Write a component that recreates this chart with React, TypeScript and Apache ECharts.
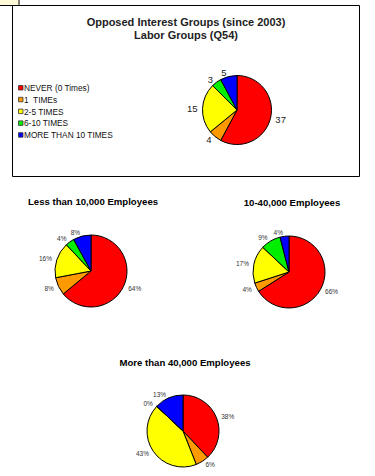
import React, { useEffect, useRef } from "react";
import * as echarts from "echarts";

const categories = ["NEVER (0 Times)", "1  TIMEs", "2-5 TIMES", "6-10 TIMES", "MORE THAN 10 TIMES"];
const colors = ["#ff0000", "#ff9900", "#ffff00", "#00ee00", "#0000ff"];
const overallCounts = [37, 4, 15, 3, 5];
const lessThan10k = [64, 8, 16, 4, 8];
const from10to40k = [66, 4, 17, 9, 4];
const moreThan40k = [38, 6, 43, 0, 13];

const mainTitle = ["Opposed Interest Groups (since 2003)", "Labor Groups (Q54)"];
const subTitles = ["Less than 10,000 Employees", "10-40,000 Employees", "More than 40,000 Employees"];

const FONT = "Liberation Sans, Arial, sans-serif";

function pieSeries(values: number[], center: [number, number], radius: number, fmt: string, fontSize: number, color: string, len: number) {
  return {
    type: "pie",
    center,
    radius,
    startAngle: 90,
    clockwise: true,
    avoidLabelOverlap: false,
    minAngle: 0,
    silent: true,
    data: values.map((v, i) => ({ name: categories[i], value: v, itemStyle: { color: colors[i] } })),
    itemStyle: { borderColor: "#000", borderWidth: 1 },
    label: {
      show: true,
      position: "outside",
      formatter: fmt,
      fontFamily: FONT,
      fontSize,
      color,
      distanceToLabelLine: 1,
    },
    labelLine: { show: false, length: len, length2: 0 },
    emphasis: { disabled: true },
  };
}

export default function App() {
  const ref = useRef<HTMLDivElement>(null);
  useEffect(() => {
    if (!ref.current) return;
    const chart = echarts.init(ref.current, undefined, { renderer: "svg" });
    const legendItems: any[] = [];
    categories.forEach((name, i) => {
      const y = 88 + i * 11.8;
      legendItems.push({ type: "rect", shape: { x: 18.5, y: y - 2.5, width: 4.5, height: 4.5 }, style: { fill: colors[i], stroke: "#333", lineWidth: 0.8 } });
      legendItems.push({ type: "text", style: { text: name, x: 24, y, textVerticalAlign: "middle", font: "8.3px " + FONT, fill: "#111" } });
    });
    chart.setOption({
      animation: false,
      backgroundColor: "#fff",
      graphic: [
        { type: "rect", shape: { x: 12.5, y: 5.5, width: 347, height: 171 }, style: { fill: "none", stroke: "#000", lineWidth: 1 } },
        { type: "rect", shape: { x: -1, y: -1, width: 20, height: 6.5 }, style: { fill: "#fffbd8", stroke: "#000", lineWidth: 1 } },
        { type: "text", style: { text: mainTitle[0], x: 186, y: 22, textAlign: "center", textVerticalAlign: "middle", font: "bold 11px " + FONT, fill: "#222" } },
        { type: "text", style: { text: mainTitle[1], x: 186, y: 35, textAlign: "center", textVerticalAlign: "middle", font: "bold 11px " + FONT, fill: "#222" } },
        { type: "text", style: { text: subTitles[0], x: 93, y: 201, textAlign: "center", textVerticalAlign: "middle", font: "bold 9.6px " + FONT, fill: "#000" } },
        { type: "text", style: { text: subTitles[1], x: 292, y: 202, textAlign: "center", textVerticalAlign: "middle", font: "bold 9.6px " + FONT, fill: "#000" } },
        { type: "text", style: { text: subTitles[2], x: 185, y: 362, textAlign: "center", textVerticalAlign: "middle", font: "bold 9.6px " + FONT, fill: "#000" } },
        ...legendItems,
      ],
      series: [
        pieSeries(overallCounts, [237, 110], 34.5, "{c}", 9.5, "#222", 4),
        pieSeries(lessThan10k, [91, 271], 36, "{c}%", 6.5, "#333", 4),
        pieSeries(from10to40k, [289, 272], 36, "{c}%", 6.5, "#333", 4),
        pieSeries(moreThan40k, [183, 431], 36, "{c}%", 6.5, "#333", 4),
      ],
    });
    return () => chart.dispose();
  }, []);
  return <div ref={ref} style={{ position: "fixed", left: 0, top: 0, width: 375, height: 476 }} />;
}
